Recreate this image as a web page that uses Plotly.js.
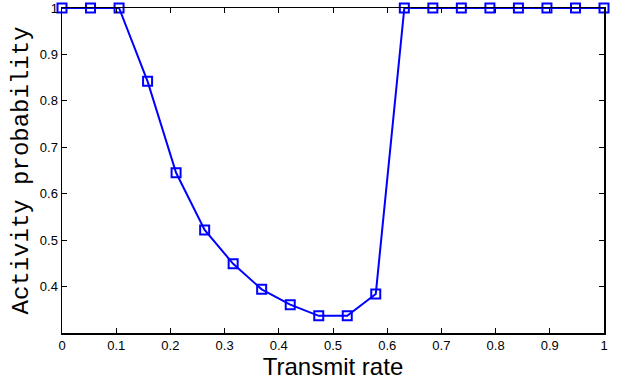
<!DOCTYPE html>
<html>
<head>
<meta charset="utf-8">
<script src="https://cdn.plot.ly/plotly-3.0.1.min.js"></script>
<style>html,body{margin:0;padding:0;background:#fff;}#chart{width:627px;height:385px;}</style>
</head>
<body>
<div id="chart"></div>
<script>
const transmitRate = [0, 0.0526, 0.1053, 0.1579, 0.2105, 0.2632, 0.3158, 0.3684, 0.4211, 0.4737, 0.5263, 0.5789, 0.6316, 0.6842, 0.7368, 0.7895, 0.8421, 0.8947, 0.9474, 1];
const activityProb = [1, 1, 1, 0.842, 0.645, 0.522, 0.449, 0.394, 0.361, 0.337, 0.337, 0.384, 1, 1, 1, 1, 1, 1, 1, 1];
const xTicks = [0, 0.1, 0.2, 0.3, 0.4, 0.5, 0.6, 0.7, 0.8, 0.9, 1];
const yTicks = [0.4, 0.5, 0.6, 0.7, 0.8, 0.9, 1];

const trace = {
  x: transmitRate, y: activityProb, type: 'scatter', mode: 'lines+markers',
  line: {color: '#0000ff', width: 2},
  marker: {symbol: 'square-open', size: 9, color: '#0000ff', line: {width: 2, color: '#0000ff'}},
  cliponaxis: false, showlegend: false
};
const axisCommon = {
  showline: true, linecolor: '#000', linewidth: 1.5, mirror: 'allticks',
  ticks: 'inside', ticklen: 5, tickcolor: '#000', tickwidth: 1,
  showgrid: false, zeroline: false,
  tickfont: {family: 'Liberation Sans, Arial', size: 13, color: '#000'}
};
const layout = {
  width: 627, height: 385,
  margin: {l: 62, r: 23, t: 8, b: 52},
  paper_bgcolor: '#fff', plot_bgcolor: '#fff',
  xaxis: Object.assign({}, axisCommon, {
    range: [0, 1], tickvals: xTicks, ticktext: xTicks.map(String),
    title: {text: 'Transmit rate', font: {family: 'Liberation Sans, Arial', size: 24, color: '#000'}, standoff: 3}
  }),
  yaxis: Object.assign({}, axisCommon, {
    range: [0.3, 1], tickvals: yTicks, ticktext: yTicks.map(String),
    title: {text: 'Activity probability', font: {family: 'Liberation Mono, Courier New', size: 24, color: '#000'}, standoff: 4}
  })
};
Plotly.newPlot('chart', [trace], layout, {displayModeBar: false, staticPlot: true});
</script>
</body>
</html>
